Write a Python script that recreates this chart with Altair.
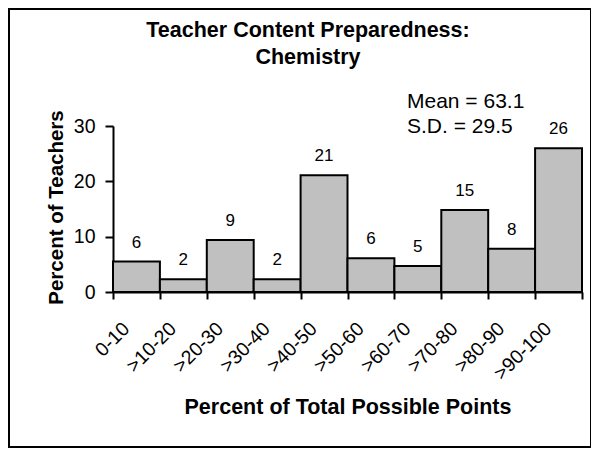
import altair as alt
import pandas as pd

categories = ["0-10", ">10-20", ">20-30", ">30-40", ">40-50",
              ">50-60", ">60-70", ">70-80", ">80-90", ">90-100"]
values = [5.5, 2.3, 9.4, 2.3, 21.1, 6.1, 4.7, 14.8, 7.8, 26.0]
labels = ["6", "2", "9", "2", "21", "6", "5", "15", "8", "26"]
title_lines = ["Teacher Content Preparedness:", "Chemistry"]
stats_lines = ["Mean = 63.1", "S.D. = 29.5"]
y_ticks = [0, 10, 20, 30]

FONT = "Liberation Sans"

df = pd.DataFrame({"cat": categories, "val": values, "lab": labels})

x_enc = alt.X(
    "cat:N", sort=categories,
    scale=alt.Scale(paddingInner=0, paddingOuter=0),
    axis=alt.Axis(
        title="Percent of Total Possible Points",
        titleFontSize=21.5, titleFontWeight="bold", titleColor="black",
        titleY=121, titleBaseline="alphabetic",
        labelAngle=-45, labelAlign="right", labelBaseline="top",
        labelPadding=20, labelOffset=-17, labelFontSize=19.5, labelColor="black",
        tickBand="extent", tickSize=7, tickWidth=2, tickColor="black",
        domainWidth=2, domainColor="black", grid=False,
    ),
)
y_enc = alt.Y(
    "val:Q",
    scale=alt.Scale(domain=[0, 30], nice=False),
    axis=alt.Axis(
        title="Percent of Teachers",
        titleFontSize=20.5, titleFontWeight="bold", titleColor="black",
        titleX=-51, titleY=81, titleAlign="center", titleBaseline="alphabetic",
        values=y_ticks, labelFontSize=19.5, labelColor="black", labelPadding=10,
        tickSize=8, tickWidth=2, tickColor="black",
        domainWidth=2, domainColor="black", grid=False,
    ),
)

bars = alt.Chart(df).mark_bar(fill="#c0c0c0", stroke="black", strokeWidth=2).encode(
    x=x_enc, y=y_enc
)
bar_labels = alt.Chart(df).mark_text(
    baseline="alphabetic", dy=-14, fontSize=17, color="black"
).encode(x=alt.X("cat:N", sort=categories), y="val:Q", text="lab:N")

one = pd.DataFrame({"a": [0]})
frame = alt.Chart(one).mark_rect(
    fillOpacity=0, stroke="black", strokeWidth=2
).encode(x=alt.value(-104), x2=alt.value(478), y=alt.value(-117), y2=alt.value(321))

t1 = alt.Chart(pd.DataFrame({"t": [title_lines[0]]})).mark_text(
    fontSize=21.5, fontWeight="bold", align="center", baseline="alphabetic", color="black"
).encode(text="t:N", x=alt.value(195), y=alt.value(-89))
t2 = alt.Chart(pd.DataFrame({"t": [title_lines[1]]})).mark_text(
    fontSize=21.5, fontWeight="bold", align="center", baseline="alphabetic", color="black"
).encode(text="t:N", x=alt.value(195), y=alt.value(-62))

s1 = alt.Chart(pd.DataFrame({"t": [stats_lines[0]]})).mark_text(
    fontSize=21, align="left", baseline="alphabetic", color="black"
).encode(text="t:N", x=alt.value(294), y=alt.value(-18))
s2 = alt.Chart(pd.DataFrame({"t": [stats_lines[1]]})).mark_text(
    fontSize=21, align="left", baseline="alphabetic", color="black"
).encode(text="t:N", x=alt.value(294), y=alt.value(7))

chart = alt.layer(frame, bars, bar_labels, t1, t2, s1, s2).properties(
    width=469, height=166,
    padding={"left": 105, "top": 118, "right": 9, "bottom": 156},
    autosize=alt.AutoSizeParams(type="none"),
    background="white",
).configure(font=FONT).configure_view(strokeOpacity=0)

chart.save("out.html", embed_options={"renderer": "svg", "actions": False})
